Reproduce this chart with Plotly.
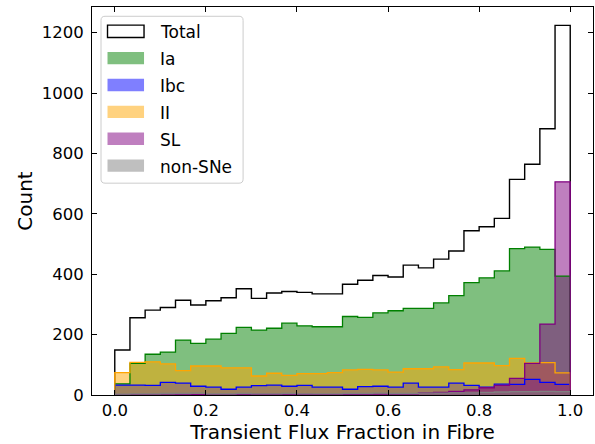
import numpy as np
import plotly.graph_objects as go

# 30 equal-width bins over the flux fraction range [0, 1]
bin_edges = np.linspace(0.0, 1.0, 31)

total = [149, 256, 281, 290, 314, 298, 312, 322, 352, 320, 338, 343, 340, 335, 335,
         367, 380, 396, 391, 430, 421, 450, 477, 544, 557, 585, 714, 764, 882, 1224]
ia = [37, 105, 135, 142, 182, 171, 185, 204, 224, 215, 221, 238, 229, 226, 226,
      260, 257, 272, 279, 287, 287, 305, 329, 372, 388, 411, 485, 490, 482, 394]
ibc = [33, 33, 32, 42, 39, 29, 26, 19, 26, 31, 33, 29, 32, 26, 26,
       19, 28, 29, 26, 39, 26, 26, 39, 32, 26, 36, 35, 52, 42, 35]
ii = [74, 108, 110, 103, 81, 96, 96, 90, 90, 63, 72, 65, 71, 71, 74,
      83, 85, 83, 76, 87, 87, 93, 84, 106, 106, 97, 121, 106, 107, 73]
sl = [0, 0, 0, 0, 1, 1, 0, 0, 2, 2, 2, 2, 2, 1, 1,
      1, 1, 3, 3, 3, 7, 9, 12, 17, 24, 32, 55, 105, 235, 706]
non_sne = [3, 4, 4, 5, 5, 6, 4, 4, 5, 4, 4, 5, 4, 4, 4,
           5, 5, 6, 5, 5, 6, 6, 7, 7, 9, 10, 11, 11, 12, 11]

x_ticks = [0.0, 0.2, 0.4, 0.6, 0.8, 1.0]
y_ticks = [0, 200, 400, 600, 800, 1000, 1200]

series = [
    ("Ia", ia, "rgb(0,128,0)", "rgba(0,128,0,0.5)"),
    ("Ibc", ibc, "rgb(0,0,255)", "rgba(0,0,255,0.5)"),
    ("II", ii, "rgb(255,165,0)", "rgba(255,165,0,0.5)"),
    ("SL", sl, "rgb(128,0,128)", "rgba(128,0,128,0.5)"),
    ("non-SNe", non_sne, "rgb(128,128,128)", "rgba(128,128,128,0.5)"),
]

FONT = "DejaVu Sans"


def step_xy(counts):
    """Outline of a step histogram: up at the first edge, across each bin, down at the last."""
    xs = [bin_edges[0]] + list(bin_edges[:-1]) + [bin_edges[-1]]
    ys = [0] + list(counts) + [0]
    return xs, ys


fig = go.Figure()

tx, ty = step_xy(total)
fig.add_trace(go.Scatter(x=tx, y=ty, mode="lines", line=dict(shape="hv", color="black", width=1.4),
                         name="Total", showlegend=False, hoverinfo="skip"))

# translucent fills first, then the step outlines on top of them
for name, counts, line_col, fill_col in series:
    sx, sy = step_xy(counts)
    fig.add_trace(go.Scatter(x=sx, y=sy, mode="lines", fill="tozeroy", fillcolor=fill_col,
                             line=dict(shape="hv", color="rgba(0,0,0,0)", width=0),
                             name=name, showlegend=False, hoverinfo="skip"))
for name, counts, line_col, fill_col in series:
    sx, sy = step_xy(counts)
    fig.add_trace(go.Scatter(x=sx, y=sy, mode="lines",
                             line=dict(shape="hv", color=line_col, width=1.3),
                             name=name, showlegend=False, hoverinfo="skip"))

# Plot-area geometry in pixels (used to place the hand-drawn legend)
W, H = 595, 444
L, R, T, B = 92, 2.3, 6.7, 49
pw, ph = W - L - R, H - T - B


def px(xp):
    return (xp - L) / pw


def py(yp):
    return (H - B - yp) / ph


shapes = []
# Legend frame with rounded corners
x0, x1, y0, y1, r = 101, 243, 16, 183, 4
rx, ry = r / pw, r / ph
path = (f"M {px(x0)+rx},{py(y0)} L {px(x1)-rx},{py(y0)} Q {px(x1)},{py(y0)} {px(x1)},{py(y0)-ry} "
        f"L {px(x1)},{py(y1)+ry} Q {px(x1)},{py(y1)} {px(x1)-rx},{py(y1)} "
        f"L {px(x0)+rx},{py(y1)} Q {px(x0)},{py(y1)} {px(x0)},{py(y1)+ry} "
        f"L {px(x0)},{py(y0)-ry} Q {px(x0)},{py(y0)} {px(x0)+rx},{py(y0)} Z")
shapes.append(dict(type="path", path=path, xref="paper", yref="paper", layer="above",
                   fillcolor="rgba(255,255,255,0.8)", line=dict(color="#cccccc", width=1)))

labels = ["Total"] + [s[0] for s in series]
fills = ["white"] + [s[3] for s in series]
annotations = []
row0, step = 31, 26.9
for i, (lab, fc) in enumerate(zip(labels, fills)):
    yc = row0 + i * step
    shapes.append(dict(type="rect", xref="paper", yref="paper", layer="above",
                       x0=px(107.5), x1=px(144), y0=py(yc - 6.2), y1=py(yc + 6.2),
                       fillcolor=fc,
                       line=dict(color="black" if i == 0 else "rgba(0,0,0,0)", width=1.4 if i == 0 else 0)))
    annotations.append(dict(text=lab, xref="paper", yref="paper", x=px(158), y=py(yc + 1),
                            xanchor="left", yanchor="middle", showarrow=False,
                            font=dict(family=FONT, size=17, color="black")))

axis_common = dict(showline=True, linecolor="black", linewidth=1, mirror="allticks",
                   ticks="inside", ticklen=5, tickwidth=1, tickcolor="black",
                   showgrid=False, zeroline=False,
                   tickfont=dict(family=FONT, size=16.5, color="black"))

fig.update_layout(
    width=W, height=H,
    margin=dict(l=L, r=R, t=T, b=B, pad=0),
    paper_bgcolor="white", plot_bgcolor="white",
    showlegend=False,
    shapes=shapes, annotations=annotations,
    xaxis=dict(range=[-0.05, 1.05], tickvals=x_ticks, ticktext=[f"{v:.1f}" for v in x_ticks],
               title=dict(text="Transient Flux Fraction in Fibre", standoff=2,
                          font=dict(family=FONT, size=20, color="black")),
               ticklabelstandoff=0, automargin=False, **axis_common),
    yaxis=dict(range=[0, 1285], tickvals=y_ticks,
               title=dict(text="Count", standoff=3,
                          font=dict(family=FONT, size=20, color="black")),
               ticklabelstandoff=4, automargin=False, **axis_common),
)

fig.write_html("out.html")
